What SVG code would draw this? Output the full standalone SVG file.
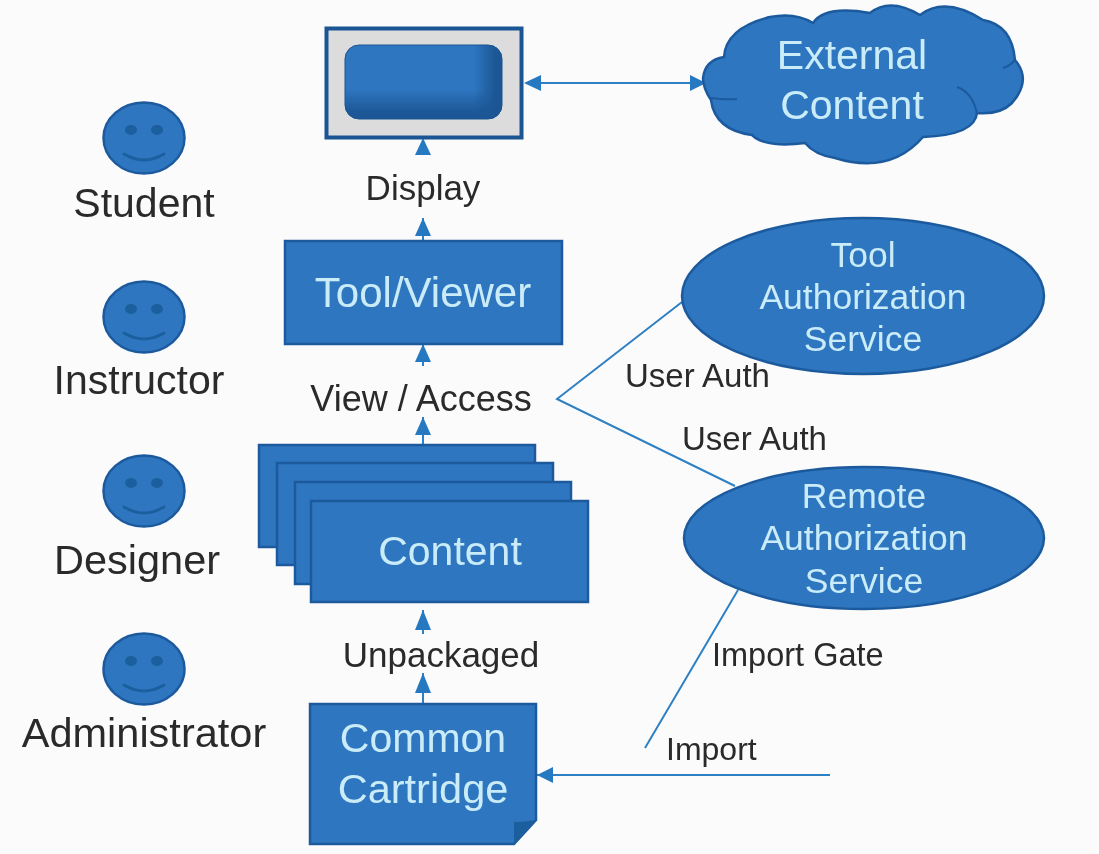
<svg xmlns="http://www.w3.org/2000/svg" width="1099" height="854" viewBox="0 0 1099 854">
<defs>
<style>
.s{fill:#2e76c0;stroke:#1e5a9e;stroke-width:2.5}
.l{font-family:"Liberation Sans",Arial,sans-serif;fill:#2b2b2b}
.w{font-family:"Liberation Sans",Arial,sans-serif;fill:#c9ecf8;text-anchor:middle}
.c{stroke:#2f80c4;stroke-width:2;fill:none}
.a{fill:#2878c0;stroke:none}
.e{fill:#1f5f9f}
.m{fill:none;stroke:#1f5f9f;stroke-width:3;stroke-linecap:round}
</style>
<filter id="b" filterUnits="userSpaceOnUse" x="0" y="0" width="1099" height="854"><feGaussianBlur stdDeviation="0.6"/></filter>
<linearGradient id="gv" x1="0" y1="0" x2="0" y2="1"><stop offset="0.6" stop-color="#1c5593" stop-opacity="0"/><stop offset="0.88" stop-color="#1c5593" stop-opacity="0.85"/><stop offset="1" stop-color="#1c5593"/></linearGradient>
<linearGradient id="gh" x1="0" y1="0" x2="1" y2="0"><stop offset="0.82" stop-color="#1c5593" stop-opacity="0"/><stop offset="0.95" stop-color="#1c5593" stop-opacity="0.9"/><stop offset="1" stop-color="#1c5593"/></linearGradient>
<g id="face"><ellipse cx="0" cy="0" rx="40.500" ry="35.500" class="s"/><ellipse cx="-13" cy="-8" rx="6" ry="5" class="e"/><ellipse cx="13" cy="-8" rx="6" ry="5" class="e"/><path d="M-20 16Q0 28 20 16" class="m"/></g>
</defs>
<rect width="1099" height="854" fill="#fbfbfb"/>
<g filter="url(#b)">
<g id="connectors">
<path class="c" d="M423 218V241M423 344V366M423 417V445M423 610V634M423 673V704"/>
<path class="c" d="M538 83H704M537 775H830"/>
<path class="c" d="M682 302L557 399L735 486M738 590L645 748"/>
<path class="a" d="M423 138L431 155H415ZM423 218L431 236H415ZM423 344L431 362H415ZM423 417L431 435H415ZM423 610L431 630H415ZM423 673L431 693H415ZM524 83L541 75V91ZM706 83L690 75V91ZM537 775L553 767V783Z"/>
</g>
<g id="screen"><rect x="326.500" y="28.500" width="195" height="109" fill="#dcdcdc" stroke="#1c5593" stroke-width="4"/><rect x="345" y="45" width="157" height="74" rx="14" fill="#2e76c0" stroke="#1c5593"/><rect x="345" y="45" width="157" height="74" rx="14" fill="url(#gv)"/><rect x="345" y="45" width="157" height="74" rx="14" fill="url(#gh)"/></g>
<g id="cloud"><path class="s" d="M703 78Q705 60 724 57Q726 28 770 17Q795 12 813 23Q825 5 870 13Q890 -3 920 15Q945 -4 983 20Q1012 25 1015 60Q1032 80 1012 103Q1000 115 977 113Q975 135 923 137Q890 175 835 158Q815 155 805 143Q765 148 752 135Q715 130 711 100Q703 88 703 78Z"/><path d="M711 98Q725 100 737 99M957 87Q972 92 977 113M1003 68Q1010 66 1015 60" fill="none" stroke="#1e5a9e" stroke-width="2"/><text class="w" font-size="41" x="852" y="69">External</text><text class="w" font-size="41" x="852" y="119">Content</text></g>
<g id="tool-viewer"><rect class="s" x="285" y="241" width="277" height="103"/><text class="w" font-size="42" x="423" y="307">Tool/Viewer</text></g>
<g id="content"><rect class="s" x="259" y="445" width="276" height="102"/><rect class="s" x="277" y="463" width="276" height="102"/><rect class="s" x="295" y="482" width="276" height="102"/><rect class="s" x="311" y="501" width="277" height="101"/><text class="w" font-size="41" x="450" y="565">Content</text></g>
<g id="common-cartridge"><path class="s" d="M310 704H536V820L514 844H310Z"/><path d="M514 844L536 820Q525 822 514 822Z" fill="#1f5f9f"/><text class="w" font-size="41" x="423" y="752">Common</text><text class="w" font-size="41.500" x="423" y="803">Cartridge</text></g>
<g id="tool-auth"><ellipse class="s" cx="863" cy="296" rx="181" ry="78"/><text class="w" font-size="35.500" x="863" y="267">Tool</text><text class="w" font-size="35.500" x="863" y="309">Authorization</text><text class="w" font-size="35.500" x="863" y="351">Service</text></g>
<g id="remote-auth"><ellipse class="s" cx="864" cy="538" rx="180" ry="71"/><text class="w" font-size="35.500" x="864" y="508">Remote</text><text class="w" font-size="35.500" x="864" y="550">Authorization</text><text class="w" font-size="35.500" x="864" y="593">Service</text></g>
<g id="student"><use href="#face" x="144" y="138"/><text class="l" font-size="41" x="144" y="217" text-anchor="middle">Student</text></g>
<g id="instructor"><use href="#face" x="144" y="317"/><text class="l" font-size="41" x="139" y="394" text-anchor="middle">Instructor</text></g>
<g id="designer"><use href="#face" x="144" y="491"/><text class="l" font-size="41.500" x="137" y="574" text-anchor="middle">Designer</text></g>
<g id="administrator"><use href="#face" x="144" y="669"/><text class="l" font-size="41.500" x="144" y="747" text-anchor="middle">Administrator</text></g>
<g id="labels">
<text class="l" font-size="35" x="423" y="200" text-anchor="middle">Display</text>
<text class="l" font-size="36" x="421" y="411" text-anchor="middle">View / Access</text>
<text class="l" font-size="35" x="441" y="667" text-anchor="middle">Unpackaged</text>
<text class="l" font-size="33" x="625" y="387">User Auth</text>
<text class="l" font-size="33" x="682" y="450">User Auth</text>
<text class="l" font-size="32.500" x="712" y="666">Import Gate</text>
<text class="l" font-size="32" x="666" y="760">Import</text>
</g>
</g>
</svg>
